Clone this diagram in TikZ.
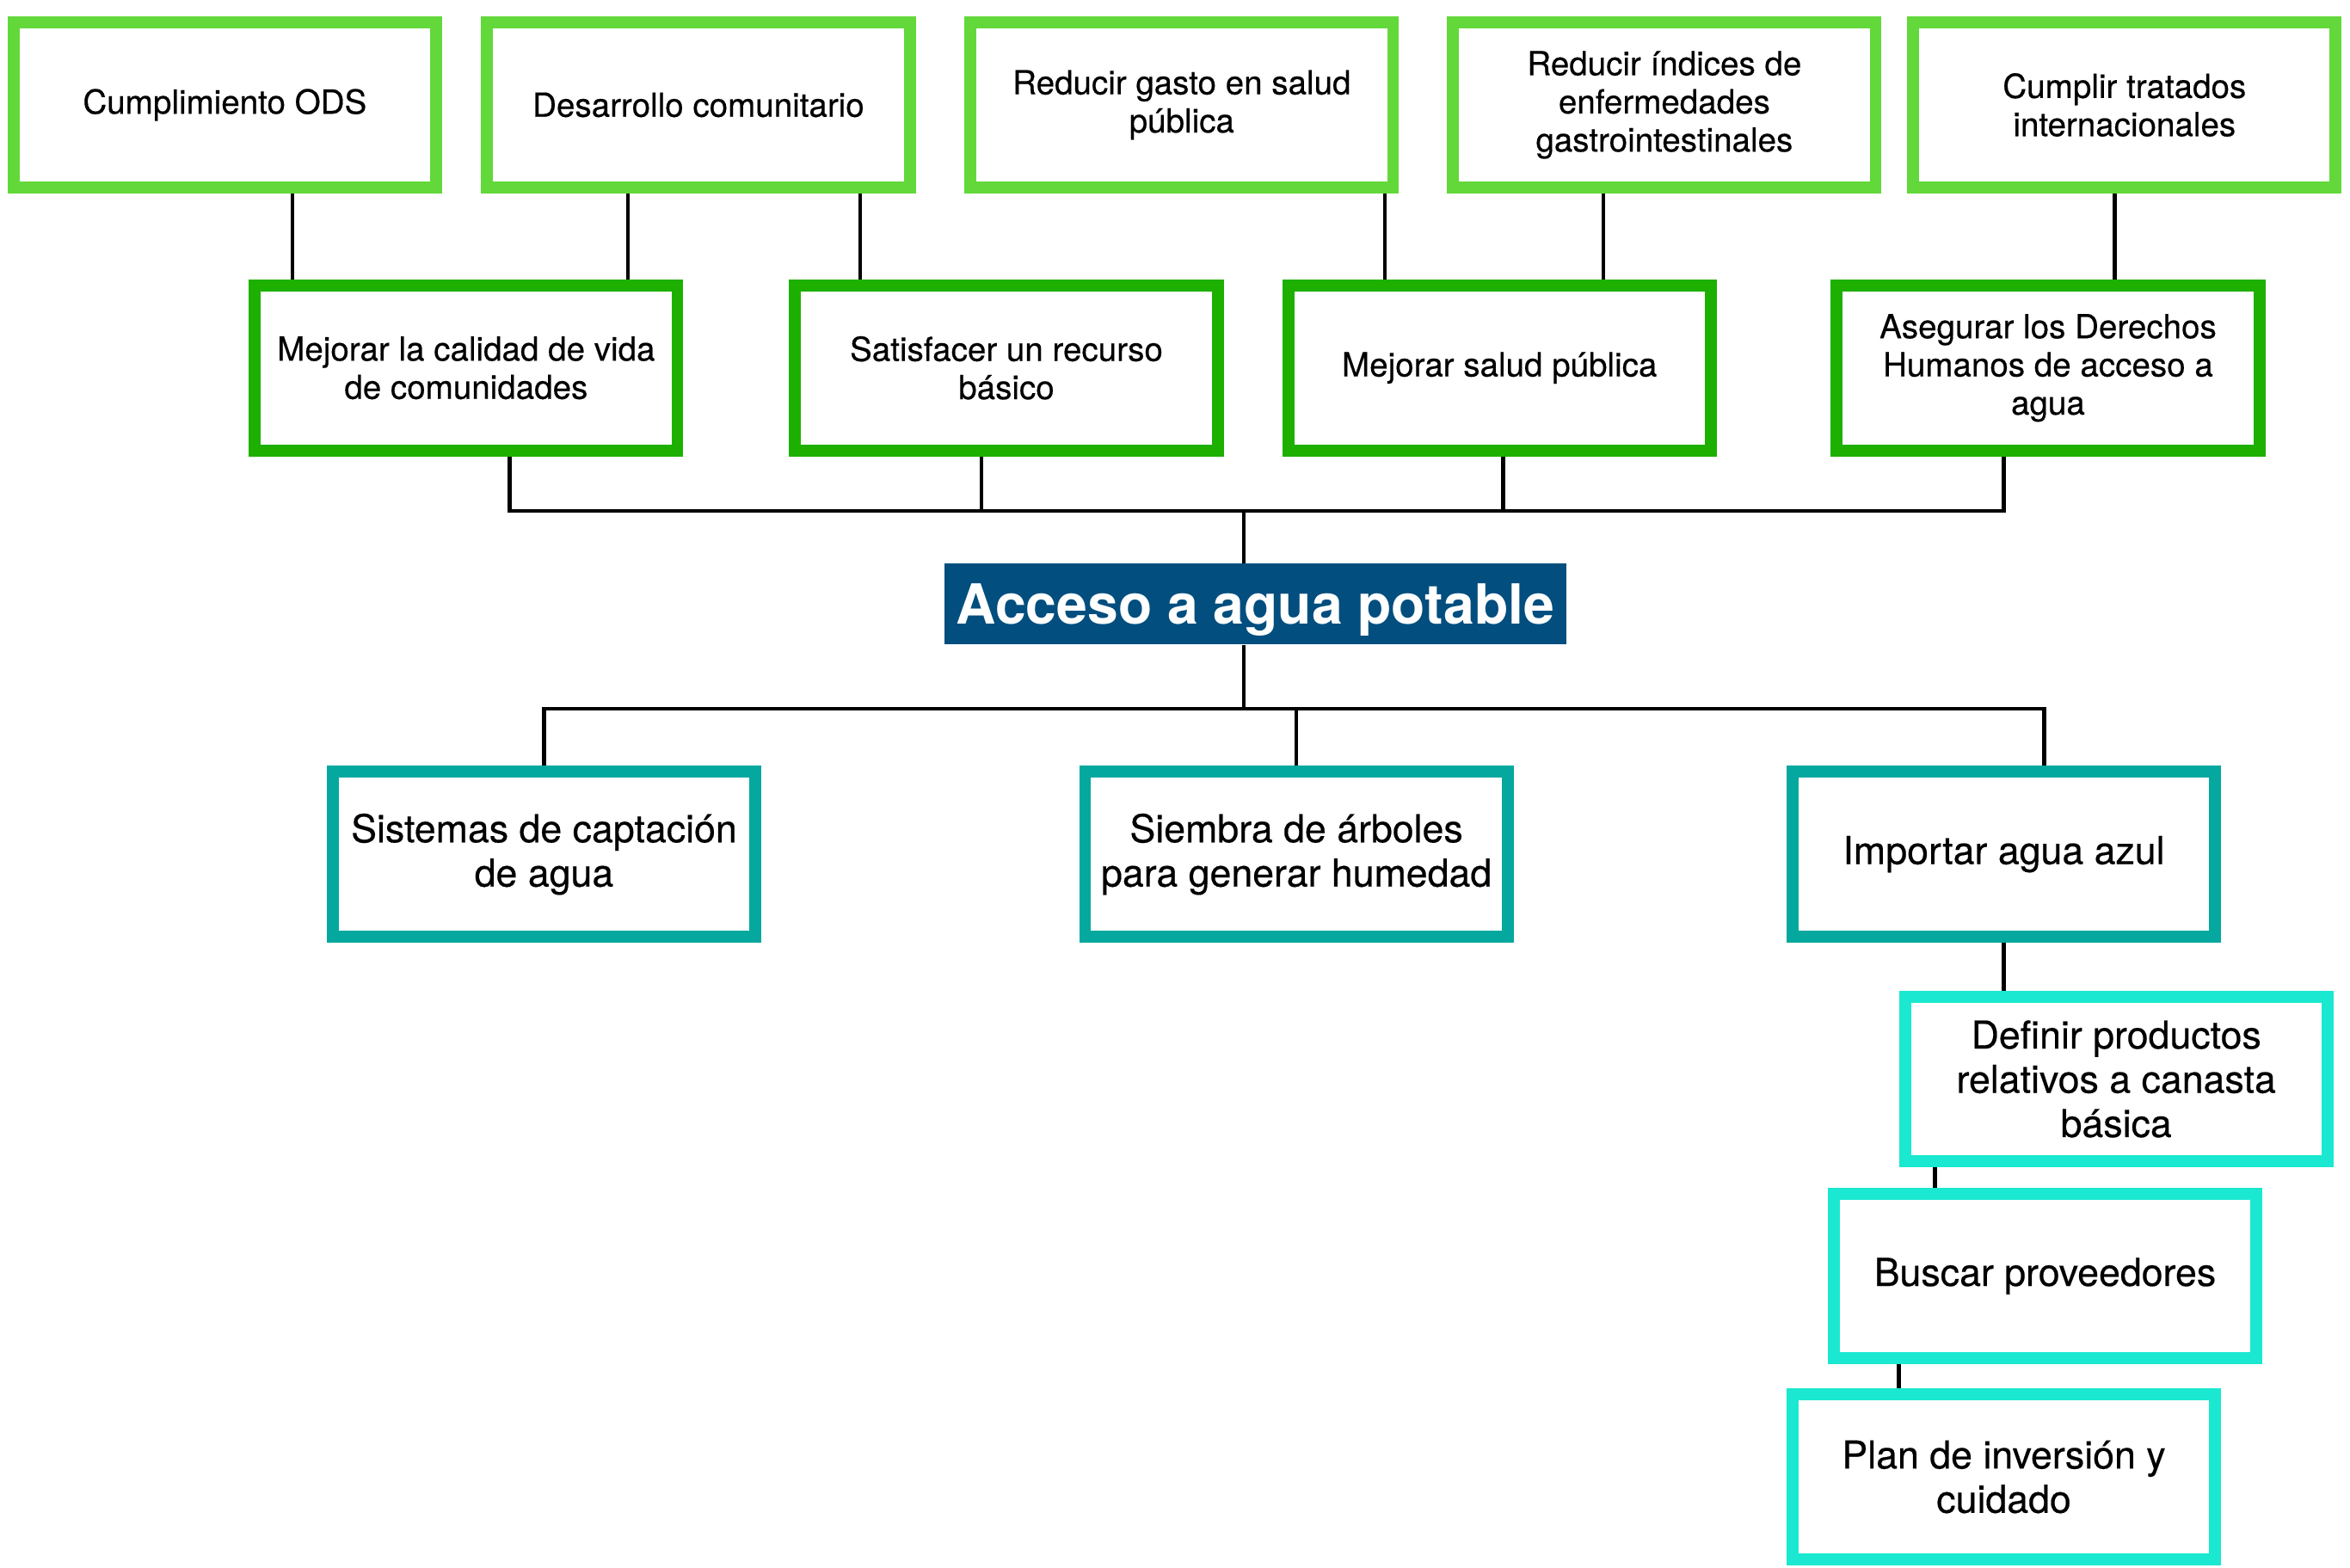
\documentclass[tikz,border=0pt]{standalone}
\usepackage{fontspec}
\setmainfont{TeX Gyre Heros}
\newfontfamily\medfont{TeX Gyre Heros}[FakeBold=0.4]
\usetikzlibrary{positioning,backgrounds}
\definecolor{leafgreen}{HTML}{62D83A}
\definecolor{grassgreen}{HTML}{1DB000}
\definecolor{seateal}{HTML}{04A89E}
\definecolor{aquacyan}{HTML}{1AE8D0}
\definecolor{deepnavy}{HTML}{024E7E}
\tikzstyle{goal box}=[fill=white,line width=0.16cm,align=center,inner sep=0pt,
  minimum width=5.64cm,minimum height=2.2cm]
\tikzstyle{small text}=[font=\medfont\fontsize{12.6}{14.5}\selectfont]
\tikzstyle{large text}=[font=\medfont\fontsize{14.6}{16.8}\selectfont]

\begin{document}
\begin{tikzpicture}[x=0.02cm, y=-0.02cm,
    end box/.style = {goal box, small text, draw=leafgreen},
    aim box/.style = {goal box, small text, draw=grassgreen},
    act box/.style = {goal box, large text, draw=seateal},
    sub box/.style = {goal box, large text, draw=aquacyan},
    link/.style = {draw=black, line width=1.4pt}]
  \useasboundingbox (0,0) rectangle (1568,1046);
  % fines
  \node [end box] (ods)      at (150,70)    {Cumplimiento ODS};
  \node [end box] (comm)     at (466,70)    {Desarrollo comunitario};
  \node [end box] (gasto)    at (788.5,70)  {Reducir gasto en salud\\pública};
  \node [end box] (enferm)   at (1110.5,70) {Reducir índices de\\enfermedades\\gastrointestinales};
  \node [end box] (tratados) at (1417.5,70) {Cumplir tratados\\internacionales};
  % objetivos
  \node [aim box] (calidad)  at (311,245.5)    {Mejorar la calidad de vida\\de comunidades};
  \node [aim box] (recurso)  at (671.5,245.5)  {Satisfacer un recurso\\básico};
  \node [aim box] (salud)    at (1000.5,245.5) {Mejorar salud pública};
  \node [aim box] (derechos) at (1366.5,245.5) {Asegurar los Derechos\\Humanos de acceso a\\agua};
  % problema
  \node [fill=deepnavy, text=white, inner sep=0pt, minimum width=8.3cm, minimum height=1.08cm,
    text height=19pt, text depth=3.8pt,
    font=\fontsize{21}{24}\selectfont\bfseries] (acceso) at (837.5,403) {Acceso a agua potable};
  % acciones
  \node [act box] (captacion) at (363,570) {Sistemas de captación\\de agua};
  \node [act box] (siembra)   at (865,570) {Siembra de árboles\\para generar humedad};
  \node [act box] (importar)  at (1337,570) {Importar agua azul};
  \node [sub box] (definir) at (1412,720)   {Definir productos\\relativos a canasta\\básica};
  \node [sub box] (buscar)  at (1364.5,851.5) {Buscar proveedores};
  \node [sub box] (plan)    at (1337,985.5) {Plan de inversión y\\cuidado};
  \coordinate (hub up) at (830,341);
  \coordinate (hub down) at (830,473);
  \begin{scope}[on background layer]
    \draw [link] ([xshift=0.9cm]ods.south) -- ([xshift=0.9cm]ods.south |- calidad.north);
    \draw [link] ([xshift=-0.94cm]comm.south) -- ([xshift=-0.94cm]comm.south |- calidad.north);
    \draw [link] ([xshift=2.16cm]comm.south) -- ([xshift=2.16cm]comm.south |- recurso.north);
    \draw [link] ([xshift=2.71cm]gasto.south) -- ([xshift=2.71cm]gasto.south |- salud.north);
    \draw [link] ([xshift=-0.81cm]enferm.south) -- ([xshift=-0.81cm]enferm.south |- salud.north);
    \draw [link] ([xshift=-0.13cm]tratados.south) -- ([xshift=-0.13cm]tratados.south |- derechos.north);
    \draw [link] ([xshift=0.58cm]calidad.south) |- (hub up);
    \draw [link] ([xshift=-0.33cm]recurso.south) |- (hub up);
    \draw [link] ([xshift=0.05cm]salud.south) |- (hub up);
    \draw [link] ([xshift=-0.59cm]derechos.south) |- (hub up);
    \draw [link] (acceso.north -| hub up) -- (hub up);
    \draw [link] (acceso.south -| hub down) -- (hub down);
    \draw [link] (captacion.north) |- (hub down);
    \draw [link] (siembra.north) |- (hub down);
    \draw [link] ([xshift=0.54cm]importar.north) |- (hub down);
    \draw [link] (importar.south) -- (importar.south |- definir.north);
    \draw [link] ([xshift=-2.42cm]definir.south) -- ([xshift=-2.42cm]definir.south |- buscar.north);
    \draw [link] ([xshift=-1.95cm]buscar.south) -- ([xshift=-1.95cm]buscar.south |- plan.north);
  \end{scope}
\end{tikzpicture}
\end{document}
